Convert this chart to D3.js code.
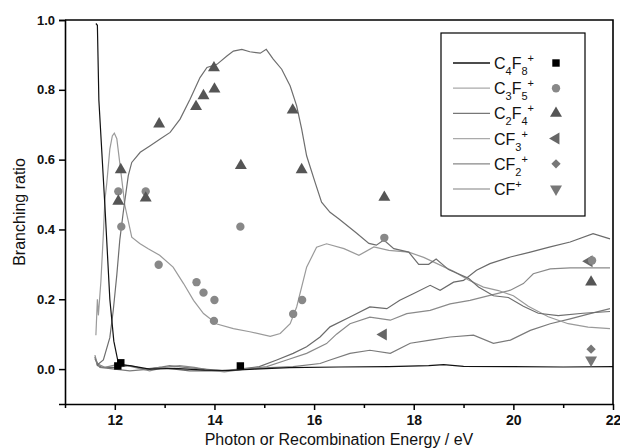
<!DOCTYPE html>
<html lang="en">
<head>
<meta charset="utf-8">
<script src="https://cdn.jsdelivr.net/npm/d3@7"></script>
<style>
  body { margin: 0; background: #fff; }
  svg text { font-family: "Liberation Sans", Arial, sans-serif; fill: #111; }
</style>
</head>
<body>
<script>
// curves: [energy eV, branching ratio]
var c4f8Line = [[11.62,0.99],[11.65,0.985],[11.68,0.77],[11.8,0.47],[11.9,0.2],[11.98,0.08],[12.07,0.017],[12.15,0.012],[12.3,0.01],[12.7,0.0],[13.2,0.002],[13.8,-0.003],[14.3,-0.004],[14.8,0.0],[15.5,0.004],[16.5,0.006],[17.5,0.007],[18.3,0.01],[18.6,0.013],[19.0,0.008],[20,0.007],[21,0.006],[22,0.007]];
var c3f5Line = [[11.62,0.097],[11.65,0.2],[11.67,0.154],[11.72,0.25],[11.77,0.387],[11.8,0.483],[11.84,0.535],[11.9,0.63],[11.95,0.668],[11.99,0.676],[12.04,0.66],[12.1,0.59],[12.17,0.507],[12.2,0.47],[12.34,0.378],[12.5,0.36],[12.67,0.345],[12.9,0.326],[13.17,0.292],[13.38,0.245],[13.58,0.197],[13.78,0.159],[14.05,0.129],[14.38,0.116],[14.71,0.107],[15.12,0.094],[15.32,0.102],[15.52,0.13],[15.65,0.178],[15.85,0.292],[16.05,0.349],[16.25,0.359],[16.6,0.345],[16.9,0.326],[17.2,0.35],[17.5,0.34],[17.9,0.335],[18.2,0.32],[18.5,0.30],[18.8,0.28],[19.1,0.255],[19.4,0.235],[19.7,0.225],[20.0,0.21],[20.3,0.18],[20.7,0.15],[21.1,0.13],[21.5,0.12],[21.94,0.116]];
var c2f4Line = [[11.64,0.011],[11.77,0.026],[11.9,0.09],[11.97,0.17],[12.04,0.27],[12.1,0.37],[12.17,0.45],[12.27,0.554],[12.34,0.592],[12.51,0.621],[12.71,0.64],[12.91,0.659],[13.11,0.678],[13.31,0.716],[13.51,0.773],[13.71,0.835],[13.85,0.864],[14.05,0.873],[14.25,0.897],[14.38,0.911],[14.55,0.916],[14.71,0.909],[14.92,0.905],[15.04,0.916],[15.18,0.888],[15.35,0.859],[15.52,0.811],[15.65,0.754],[15.75,0.688],[15.85,0.611],[16.02,0.535],[16.15,0.478],[16.32,0.449],[16.5,0.43],[16.85,0.39],[17.1,0.36],[17.25,0.355],[17.4,0.37],[17.6,0.345],[17.9,0.335],[18.1,0.30],[18.3,0.30],[18.45,0.315],[18.7,0.285],[19.1,0.26],[19.3,0.235],[19.6,0.21],[19.9,0.205],[20.2,0.18],[20.5,0.16],[20.9,0.153],[21.4,0.16],[21.94,0.165]];
var cf3Line = [[11.6,0.035],[11.65,0.01],[11.75,0.005],[12.0,0.005],[12.3,0.01],[12.6,0.0],[12.9,0.005],[13.2,0.0],[13.5,-0.005],[13.8,-0.005],[14.1,-0.005],[14.5,0.0],[14.9,0.007],[15.25,0.026],[15.58,0.045],[15.85,0.064],[16.12,0.092],[16.32,0.121],[16.72,0.149],[17.12,0.178],[17.46,0.173],[17.72,0.197],[17.99,0.216],[18.33,0.24],[18.53,0.226],[18.8,0.249],[19.0,0.254],[19.26,0.283],[19.53,0.302],[19.94,0.321],[20.34,0.335],[20.74,0.35],[21.14,0.364],[21.6,0.388],[21.94,0.373]];
var cf2Line = [[11.6,0.04],[11.65,0.015],[11.8,0.005],[12.1,0.015],[12.4,0.005],[12.7,-0.005],[13.0,0.005],[13.3,0.01],[13.6,0.005],[13.9,-0.003],[14.2,-0.008],[14.6,0.0],[15.05,0.007],[15.45,0.026],[15.85,0.045],[16.25,0.073],[16.45,0.1],[16.72,0.13],[17.12,0.149],[17.53,0.14],[17.86,0.159],[18.33,0.168],[18.73,0.187],[19.13,0.197],[19.53,0.211],[19.94,0.226],[20.2,0.245],[20.4,0.273],[20.74,0.287],[21.14,0.29],[21.54,0.29],[21.94,0.29]];
var cfLine = [[11.6,0.03],[11.7,0.005],[12.0,0.0],[12.3,-0.005],[12.7,0.0],[13.1,0.01],[13.4,0.005],[13.8,0.0],[14.2,-0.005],[14.6,0.0],[15.1,0.004],[15.58,0.007],[16.12,0.016],[16.32,0.026],[16.72,0.045],[17.12,0.054],[17.53,0.045],[17.93,0.074],[18.33,0.083],[18.73,0.092],[19.2,0.097],[19.6,0.074],[19.94,0.083],[20.34,0.111],[20.74,0.13],[21.14,0.144],[21.54,0.159],[21.94,0.173]];

// measured points
var c4f8Pts = [[12.06,0.009],[12.12,0.018],[14.52,0.009]];
var c3f5Pts = [[12.07,0.509],[12.13,0.408],[12.62,0.509],[12.88,0.299],[13.64,0.249],[13.78,0.219],[14.0,0.198],[13.99,0.138],[14.52,0.408],[15.58,0.158],[15.76,0.198],[17.41,0.376],[21.58,0.311]];
var c2f4Pts = [[12.12,0.571],[12.07,0.481],[12.62,0.49],[12.89,0.702],[13.63,0.752],[13.78,0.783],[14.0,0.802],[13.99,0.863],[14.53,0.583],[15.57,0.742],[15.75,0.571],[17.41,0.492],[21.56,0.249]];
var cf3Pts = [[17.39,0.099],[21.52,0.309]];
var cf2Pts = [[21.56,0.057]];
var cfPts = [[21.56,0.026]];

var xTicks = [11,12,13,14,15,16,17,18,19,20,21,22];
var yTicks = [0.0,0.2,0.4,0.6,0.8,1.0];

var w = 620, h = 448;
var margin = { left: 65, right: 7, top: 20, bottom: 44 };

var x = d3.scaleLinear().domain([11, 22]).range([margin.left, w - margin.right]);
var y = d3.scaleLinear().domain([-0.1, 1.0]).range([h - margin.bottom, margin.top]);

var svg = d3.select("body").append("svg")
  .attr("width", w)
  .attr("height", h);

var line = d3.line().x(d => x(d[0])).y(d => y(d[1]));

var series = [
  { name: [["CF",""],["3","sub"],["+","sup"]], line: cf3Line, pts: cf3Pts, stroke: "#6a6a6a", legStroke: "#aaa", sym: "left", fill: "#666" },
  { name: [["CF",""],["2","sub"],["+","sup"]], line: cf2Line, pts: cf2Pts, stroke: "#8a8a8a", legStroke: "#888", sym: d3.symbolDiamond2, fill: "#777" },
  { name: [["CF",""],["+","sup"]], line: cfLine, pts: cfPts, stroke: "#7a7a7a", legStroke: "#aaa", sym: "down", fill: "#777" },
  { name: [["C",""],["3","sub"],["F",""],["5","sub"],["+","sup"]], line: c3f5Line, pts: c3f5Pts, stroke: "#9a9a9a", legStroke: "#aaa", sym: d3.symbolCircle, fill: "#888" },
  { name: [["C",""],["2","sub"],["F",""],["4","sub"],["+","sup"]], line: c2f4Line, pts: c2f4Pts, stroke: "#6e6e6e", legStroke: "#777", sym: d3.symbolTriangle, fill: "#555" },
  { name: [["C",""],["4","sub"],["F",""],["8","sub"],["+","sup"]], line: c4f8Line, pts: c4f8Pts, stroke: "#111", legStroke: "#111", sym: d3.symbolSquare, fill: "#000" }
];
var legendOrder = [5, 3, 4, 0, 1, 2];

svg.append("clipPath").attr("id", "clip").append("rect")
  .attr("x", margin.left).attr("y", margin.top)
  .attr("width", w - margin.left - margin.right)
  .attr("height", h - margin.top - margin.bottom);

var plot = svg.append("g").attr("clip-path", "url(#clip)");

series.forEach(function(s) {
  plot.append("path")
    .datum(s.line)
    .attr("d", line)
    .attr("fill", "none")
    .attr("stroke", s.stroke)
    .attr("stroke-width", 1.2);
});

function marker(g, s, px, py) {
  if (s.sym === "left" || s.sym === "down") {
    var rot = s.sym === "left" ? -90 : 180;
    g.append("path")
      .attr("d", d3.symbol().type(d3.symbolTriangle).size(62)())
      .attr("fill", s.fill)
      .attr("transform", "translate(" + px + "," + py + ") rotate(" + rot + ")");
  } else {
    var size = s.sym === d3.symbolTriangle ? 62 : 55;
    g.append("path")
      .attr("d", d3.symbol().type(s.sym).size(size)())
      .attr("fill", s.fill)
      .attr("transform", "translate(" + px + "," + py + ")");
  }
}

series.forEach(function(s) {
  s.pts.forEach(function(d) { marker(plot, s, x(d[0]), y(d[1])); });
});

// axes
var xAxis = d3.axisBottom(x).tickValues(xTicks).tickSizeOuter(0)
  .tickFormat(d => d % 2 === 0 ? d : "");
var gx = svg.append("g")
  .attr("transform", "translate(0," + (h - margin.bottom) + ")")
  .call(xAxis);
gx.selectAll(".tick line").attr("y2", d => d % 2 === 0 ? 6 : 4).attr("stroke-width", 1.5);
gx.selectAll(".tick text").attr("y", 11).attr("font-size", 14).attr("font-weight", "bold").attr("font-family", null);
gx.select(".domain").attr("stroke-width", 1.6);

var yAxis = d3.axisLeft(y).tickValues(yTicks).tickSizeOuter(0).tickSize(6).tickFormat(d3.format(".1f"));
var gy = svg.append("g")
  .attr("transform", "translate(" + margin.left + ",0)")
  .call(yAxis);
gy.selectAll(".tick line").attr("stroke-width", 1.5);
gy.selectAll(".tick text").attr("x", -10).attr("font-size", 13).attr("font-weight", "bold").attr("font-family", null);
gy.select(".domain").attr("stroke-width", 1.6);

// top and right frame
svg.append("path")
  .attr("d", "M" + margin.left + "," + margin.top + "H" + (w - margin.right) + "V" + (h - margin.bottom))
  .attr("fill", "none")
  .attr("stroke", "#000")
  .attr("stroke-width", 1.6);

svg.append("text")
  .attr("x", (margin.left + w - margin.right) / 2)
  .attr("y", 445)
  .attr("text-anchor", "middle")
  .attr("font-size", 16)
  .text("Photon or Recombination Energy / eV");

svg.append("text")
  .attr("transform", "translate(25," + ((margin.top + h - margin.bottom) / 2) + ") rotate(-90)")
  .attr("text-anchor", "middle")
  .attr("font-size", 16)
  .text("Branching ratio");

// legend
var leg = svg.append("g");
leg.append("rect")
  .attr("x", 441).attr("y", 33)
  .attr("width", 144).attr("height", 183)
  .attr("fill", "#fff")
  .attr("stroke", "#000")
  .attr("stroke-width", 1.2);

legendOrder.forEach(function(idx, i) {
  var s = series[idx];
  var ry = 63 + i * 25.2;
  leg.append("line")
    .attr("x1", 453).attr("x2", 490)
    .attr("y1", ry).attr("y2", ry)
    .attr("stroke", s.legStroke)
    .attr("stroke-width", 1.3);
  var t = leg.append("text")
    .attr("x", 494).attr("y", ry + 6)
    .attr("font-size", 16);
  var off = 0;
  s.name.forEach(function(part) {
    var target = part[1] === "sub" ? 6 : (part[1] === "sup" ? -7 : 0);
    t.append("tspan")
      .attr("dy", target - off)
      .attr("font-size", part[1] === "" ? 16 : 11)
      .text(part[0]);
    off = target;
  });
  marker(leg, s, 556, ry);
});
</script>
</body>
</html>
